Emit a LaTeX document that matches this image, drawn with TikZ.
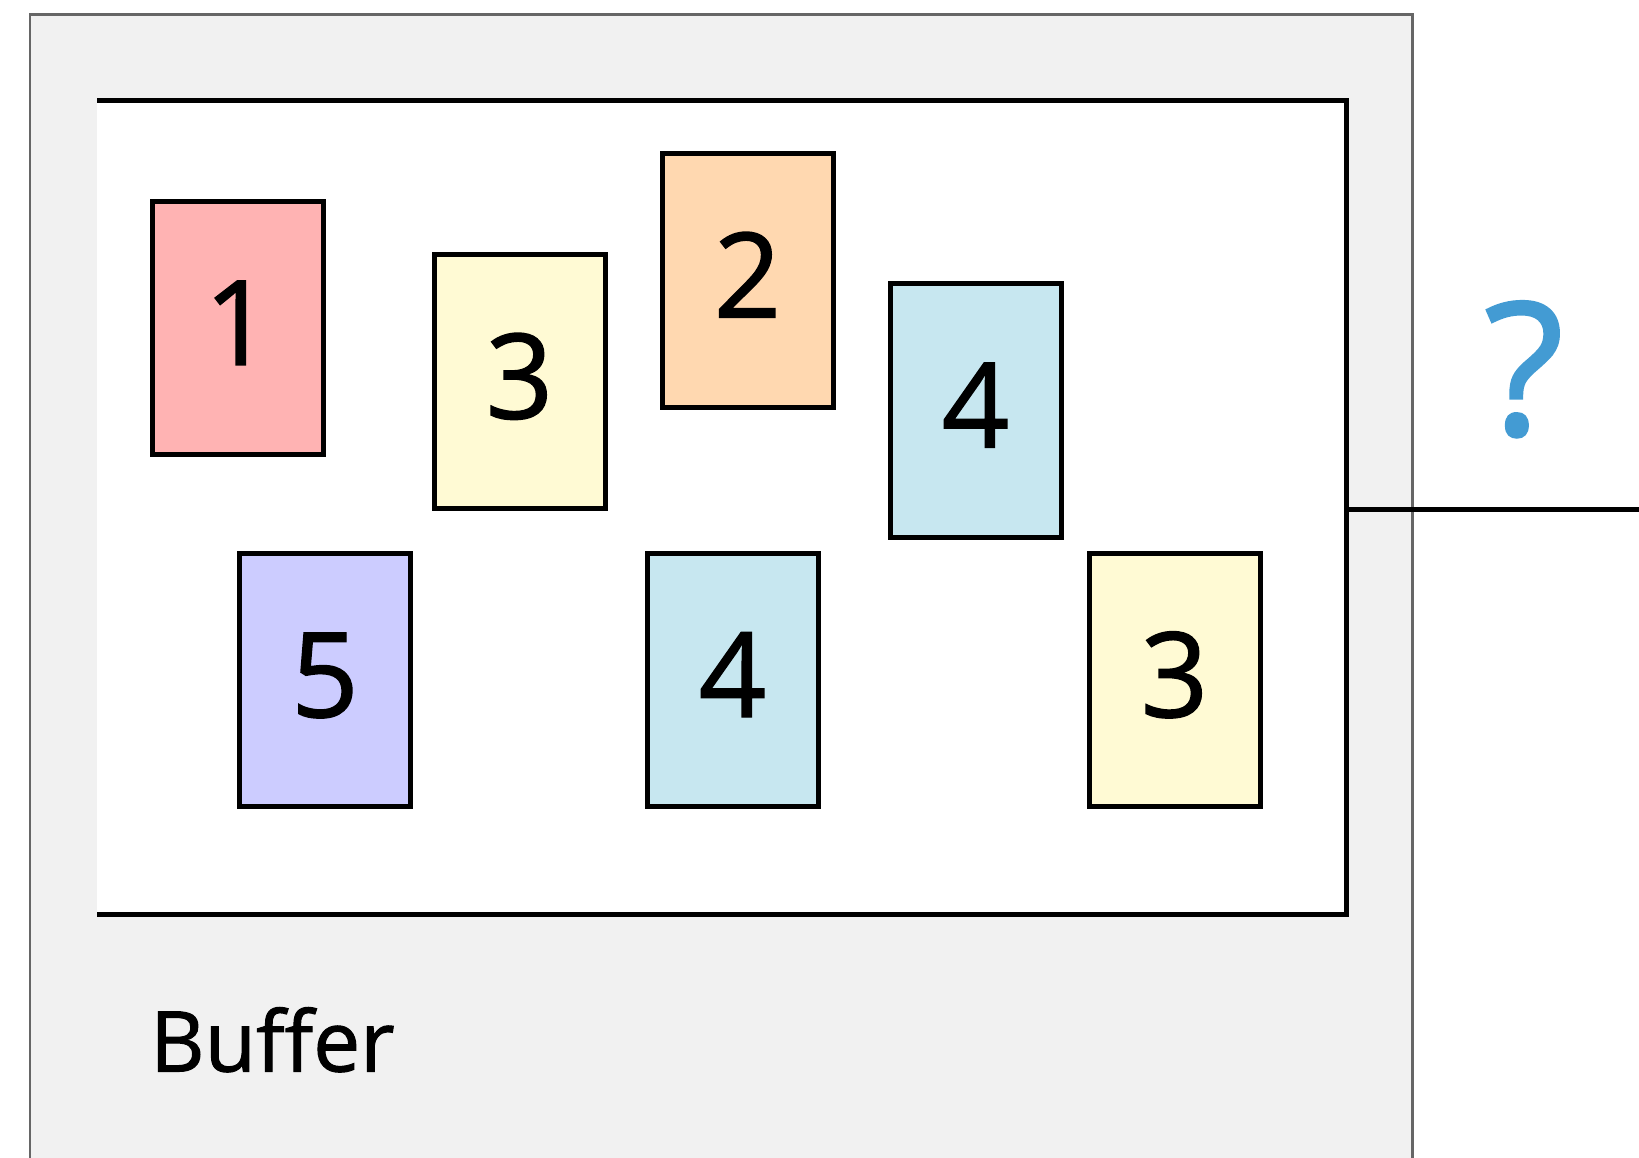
\documentclass[tikz,border=0pt]{standalone}
\usepackage{fontspec}
\setmainfont{Open Sans}[FakeBold=1.2]
\definecolor{framegrey}{HTML}{666666}
\definecolor{framefill}{HTML}{F1F1F1}
\definecolor{cpink}{HTML}{FFB3B3}
\definecolor{cyellow}{HTML}{FFFAD4}
\definecolor{cpeach}{HTML}{FFD8B0}
\definecolor{cblue}{HTML}{C7E7F0}
\definecolor{cviolet}{HTML}{CCCCFF}
\definecolor{qblue}{HTML}{439BD3}
\begin{document}
\begin{tikzpicture}[x=1pt,y=-1pt,
  card/.style={draw=black,line width=5pt,minimum width=171pt,minimum height=253pt,inner sep=0pt,outer sep=0pt},
  digit/.style={anchor=base,inner sep=0pt,font=\fontsize{118}{118}\selectfont},
  bufline/.style={draw=black,line width=5pt},
]
\useasboundingbox (0,0) rectangle (1639,1158);
% outer grey frame
\fill[framefill] (30,14.3) rectangle (1412.5,1170);
\draw[framegrey,line width=2.5pt] (30,1170) -- (30,14.3) -- (1412.5,14.3) -- (1412.5,1170);
% inner white buffer area
\fill[white] (97,100.5) rectangle (1346,914);
\draw[bufline] (97,100.5) -- (1346,100.5) -- (1346,914) -- (97,914);
\coordinate (bufR) at (1346,509);
\coordinate (outR) at (1645,509);
\draw[bufline] (bufR) -- (outR);
% cards
\node[card,fill=cpink]   (c1)  at (238,328)     {};
\node[card,fill=cyellow] (c3)  at (519.5,381.5) {};
\node[card,fill=cpeach]  (c2)  at (747.5,280.5) {};
\node[card,fill=cblue]   (c4)  at (975.5,410.5) {};
\node[card,fill=cviolet] (c5)  at (325,680)     {};
\node[card,fill=cblue]   (c4b) at (732.5,680)   {};
\node[card,fill=cyellow] (c3b) at (1174.5,680)  {};
\node[digit] (t1)  at (238,365)     {1};
\node[digit] (t3)  at (519.5,418.5) {3};
\node[digit] (t2)  at (747.5,317.5) {2};
\node[digit] (t4)  at (975.5,447.5) {4};
\node[digit] (t5)  at (325,717)     {5};
\node[digit] (t4b) at (732.5,717)   {4};
\node[digit] (t3b) at (1174.5,717)  {3};
% labels
\node[anchor=base west,inner sep=0pt,font=\fontsize{84}{84}\selectfont] (buf) at (150,1071.5) {Buffer};
\node[anchor=base,inner sep=0pt,text=qblue,font=\fontsize{185}{185}\selectfont] (q) at (1524,435) {?};
\end{tikzpicture}
\end{document}
